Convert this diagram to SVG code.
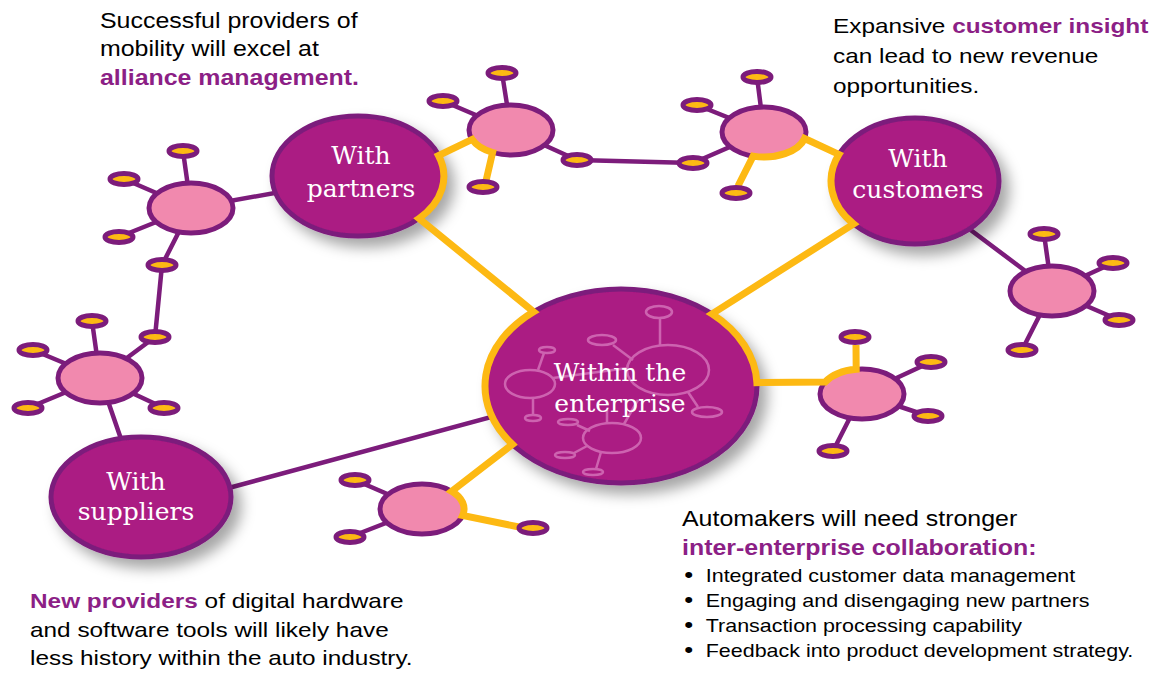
<svg xmlns="http://www.w3.org/2000/svg" width="1150" height="673" viewBox="0 0 1150 673">
<defs>
<filter id="sh" x="-20%" y="-20%" width="150%" height="150%">
<feDropShadow dx="8" dy="9" stdDeviation="7" flood-color="#000" flood-opacity="0.35"/>
</filter>
<style>
.main{fill:#AB1A83;stroke:#7C1C7B;stroke-width:5}
.hub{fill:#F189AE;stroke:#7C1C7B;stroke-width:5}
.sat{fill:#FDB913;stroke:#7C1C7B;stroke-width:5}
.pl{stroke:#7C1C7B;stroke-width:4.5;fill:none}
.yl{stroke:#FDB913;stroke-width:7;fill:none;stroke-linejoin:miter}
.lbl{font-family:"DejaVu Serif",serif;font-size:25px;fill:#fff;text-anchor:middle}
.txt{font-family:"Liberation Sans",Arial,sans-serif;fill:#000}
.em{fill:#8C1F86;font-weight:bold}
.deco{stroke:#D470B8;stroke-width:2.5;fill:none;opacity:0.85}
</style>
</defs>
<rect width="1150" height="673" fill="#fff"/>

<g id="connectors">
<path class="pl" d="M511,130 L502,73 M511,130 L443,101 M511,130 L577,160 M577,160 L693,163
M764,132 L757,77 M764,132 L697,105 M764,132 L693,163
M191,208 L358,178 M191,208 L183,151 M191,208 L124,179 M191,208 L119,237 M191,208 L162,265 L155,337
M100,378 L155,337 M100,378 L92,321 M100,378 L33,350 M100,378 L28,408 M100,378 L164,408 M100,378 L141,497
M210,493 L510,412
M422,509 L355,480 M422,509 L350,537
M862,394 L931,362 M862,394 L928,416 M862,394 L833,451
M960,222 L1052,291 M1052,291 L1044,234 M1052,291 L1113,263 M1052,291 L1119,320 M1052,291 L1022,350"/>
</g>

<g id="node-partners" filter="url(#sh)">
<ellipse class="main" cx="358" cy="176" rx="86" ry="60"/>
</g>
<g id="node-customers" filter="url(#sh)">
<ellipse class="main" cx="915" cy="181" rx="84" ry="63"/>
</g>
<g id="node-suppliers" filter="url(#sh)">
<ellipse class="main" cx="141" cy="497" rx="90" ry="60"/>
</g>
<g id="node-enterprise">
<ellipse class="main" cx="621" cy="386" rx="136" ry="97" filter="url(#sh)"/>
<g class="deco">
<ellipse cx="668" cy="370" rx="41" ry="25"/>
<ellipse cx="659" cy="312" rx="13" ry="6"/>
<line x1="660" y1="318" x2="660" y2="345"/>
<ellipse cx="602" cy="340" rx="14" ry="5"/>
<line x1="613" y1="345" x2="633" y2="360"/>
<ellipse cx="707" cy="412" rx="15" ry="5"/>
<line x1="688" y1="392" x2="698" y2="407"/>
<ellipse cx="530" cy="384" rx="25" ry="14"/>
<ellipse cx="547" cy="350" rx="8" ry="3"/>
<line x1="544" y1="353" x2="538" y2="370"/>
<ellipse cx="533" cy="418" rx="8" ry="3"/>
<line x1="533" y1="398" x2="533" y2="415"/>
<line x1="553" y1="378" x2="628" y2="368"/>
<ellipse cx="612" cy="438" rx="29" ry="15"/>
<ellipse cx="568" cy="422" rx="10" ry="3"/>
<line x1="577" y1="425" x2="590" y2="431"/>
<ellipse cx="565" cy="455" rx="10" ry="3"/>
<line x1="574" y1="453" x2="587" y2="446"/>
<ellipse cx="593" cy="472" rx="10" ry="3"/>
<line x1="596" y1="469" x2="601" y2="452"/>
<line x1="607" y1="423" x2="607" y2="410"/>
<line x1="624" y1="424" x2="638" y2="400"/>
</g>
</g>

<g id="hub-1"><ellipse class="hub" cx="511" cy="130" rx="42" ry="25"/></g>
<g id="hub-2"><ellipse class="hub" cx="764" cy="132" rx="42" ry="25"/></g>
<g id="hub-3"><ellipse class="hub" cx="191" cy="208" rx="42" ry="25"/></g>
<g id="hub-4"><ellipse class="hub" cx="100" cy="378" rx="42" ry="25"/></g>
<g id="hub-5"><ellipse class="hub" cx="422" cy="509" rx="42" ry="25"/></g>
<g id="hub-6"><ellipse class="hub" cx="862" cy="394" rx="42" ry="25"/></g>
<g id="hub-7"><ellipse class="hub" cx="1052" cy="291" rx="42" ry="25"/></g>

<g id="connectors-highlight">
<path class="yl" d="M486,181 L492.6,152.5 A42,25 0 0 1 472.1,139.4 L438.5,155.5 A86,60 0 0 1 419,218.5 L533.6,311.7 A136,97 0 0 0 512.4,444.4 L451.7,491.3 A42,25 0 0 1 462.6,515.5 L519,527"/>
<path class="yl" d="M738,186 L753.1,156.1 A42,25 0 0 0 804.6,138.5 L838.9,154.4 A84,63 0 0 0 853.6,224 L712,313.9 A136,97 0 0 1 756.9,382.6 L825.3,381.9 A42,25 0 0 1 856.2,369.2 L856,345"/>
</g>

<g id="satellites">
<g id="sat-1a"><ellipse class="sat" cx="502" cy="73" rx="14" ry="5.5"/></g>
<g id="sat-1b"><ellipse class="sat" cx="443" cy="101" rx="14" ry="5.5"/></g>
<g id="sat-1c"><ellipse class="sat" cx="577" cy="160" rx="14" ry="5.5"/></g>
<g id="sat-1d"><ellipse class="sat" cx="483" cy="187" rx="14" ry="5.5"/></g>
<g id="sat-2a"><ellipse class="sat" cx="757" cy="77" rx="14" ry="5.5"/></g>
<g id="sat-2b"><ellipse class="sat" cx="697" cy="105" rx="14" ry="5.5"/></g>
<g id="sat-2c"><ellipse class="sat" cx="693" cy="163" rx="14" ry="5.5"/></g>
<g id="sat-2d"><ellipse class="sat" cx="736" cy="193" rx="14" ry="5.5"/></g>
<g id="sat-3a"><ellipse class="sat" cx="183" cy="151" rx="14" ry="5.5"/></g>
<g id="sat-3b"><ellipse class="sat" cx="124" cy="179" rx="14" ry="5.5"/></g>
<g id="sat-3c"><ellipse class="sat" cx="119" cy="237" rx="14" ry="5.5"/></g>
<g id="sat-3d"><ellipse class="sat" cx="162" cy="265" rx="14" ry="5.5"/></g>
<g id="sat-4a"><ellipse class="sat" cx="92" cy="321" rx="14" ry="5.5"/></g>
<g id="sat-4b"><ellipse class="sat" cx="33" cy="350" rx="14" ry="5.5"/></g>
<g id="sat-4c"><ellipse class="sat" cx="28" cy="408" rx="14" ry="5.5"/></g>
<g id="sat-4d"><ellipse class="sat" cx="164" cy="408" rx="14" ry="5.5"/></g>
<g id="sat-4e"><ellipse class="sat" cx="155" cy="337" rx="14" ry="5.5"/></g>
<g id="sat-5a"><ellipse class="sat" cx="355" cy="480" rx="14" ry="5.5"/></g>
<g id="sat-5b"><ellipse class="sat" cx="350" cy="537" rx="14" ry="5.5"/></g>
<g id="sat-5c"><ellipse class="sat" cx="533" cy="528" rx="14" ry="5.5"/></g>
<g id="sat-6a"><ellipse class="sat" cx="855" cy="337" rx="14" ry="5.5"/></g>
<g id="sat-6b"><ellipse class="sat" cx="931" cy="362" rx="14" ry="5.5"/></g>
<g id="sat-6c"><ellipse class="sat" cx="928" cy="416" rx="14" ry="5.5"/></g>
<g id="sat-6d"><ellipse class="sat" cx="833" cy="451" rx="14" ry="5.5"/></g>
<g id="sat-7a"><ellipse class="sat" cx="1044" cy="234" rx="14" ry="5.5"/></g>
<g id="sat-7b"><ellipse class="sat" cx="1113" cy="263" rx="14" ry="5.5"/></g>
<g id="sat-7c"><ellipse class="sat" cx="1119" cy="320" rx="14" ry="5.5"/></g>
<g id="sat-7d"><ellipse class="sat" cx="1022" cy="350" rx="14" ry="5.5"/></g>
</g>

<g id="labels">
<text class="lbl" x="361" y="164">With</text>
<text class="lbl" x="361" y="197">partners</text>
<text class="lbl" x="918" y="167">With</text>
<text class="lbl" x="918" y="198">customers</text>
<text class="lbl" x="620" y="381">Within the</text>
<text class="lbl" x="620" y="412">enterprise</text>
<text class="lbl" x="136" y="490">With</text>
<text class="lbl" x="136" y="520">suppliers</text>
</g>

<g id="text-top-left" transform="translate(100,0) scale(1.16,1)" class="txt" font-size="21.5">
<text x="0" y="28">Successful providers of</text>
<text x="0" y="56.5">mobility will excel at</text>
<text x="0" y="85" class="em">alliance management.</text>
</g>
<g id="text-top-right" transform="translate(833,0) scale(1.16,1)" class="txt" font-size="21">
<text x="0" y="33">Expansive <tspan class="em">customer insight</tspan></text>
<text x="0" y="63">can lead to new revenue</text>
<text x="0" y="93">opportunities.</text>
</g>
<g id="text-bottom-left" transform="translate(30,0) scale(1.16,1)" class="txt" font-size="21">
<text x="0" y="608"><tspan class="em">New providers</tspan> of digital hardware</text>
<text x="0" y="637">and software tools will likely have</text>
<text x="0" y="665">less history within the auto industry.</text>
</g>
<g id="text-bottom-right" transform="translate(682,0) scale(1.16,1)" class="txt" font-size="21.5">
<text x="0" y="526">Automakers will need stronger</text>
<text x="0" y="555" class="em">inter-enterprise collaboration:</text>
<g font-size="18.5">
<text x="2" y="582" font-size="22">•</text><text x="20.5" y="582">Integrated customer data management</text>
<text x="2" y="607" font-size="22">•</text><text x="20.5" y="607">Engaging and disengaging new partners</text>
<text x="2" y="632" font-size="22">•</text><text x="20.5" y="632">Transaction processing capability</text>
<text x="2" y="657" font-size="22">•</text><text x="20.5" y="657">Feedback into product development strategy.</text>
</g>
</g>
</svg>
